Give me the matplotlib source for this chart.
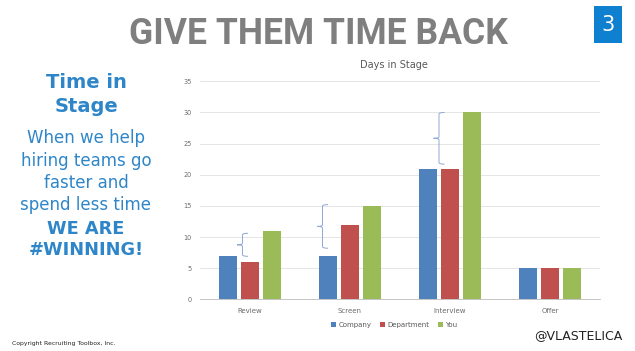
import matplotlib
matplotlib.use("Agg")
import matplotlib.pyplot as plt
import numpy as np
from matplotlib.path import Path
from matplotlib.patches import PathPatch, Rectangle

# data
stages = ["Review", "Screen", "Interview", "Offer"]
company = [7, 7, 21, 5]
department = [6, 12, 21, 5]
you = [11, 15, 30, 5]
series_names = ["Company", "Department", "You"]
colors = ["#4f81bd", "#c0504d", "#9bbb59"]

# bracket annotations (category index, x offset, low, high)
brace_cat = [0, 1, 2]
brace_off = [-0.075, -0.275, -0.11]
brace_lo = [6.9, 8.2, 21.7]
brace_hi = [10.6, 15.2, 30]

plt.rcParams["font.family"] = ["DejaVu Sans"]

W, H = 635, 351
fig = plt.figure(figsize=(6.35, 3.51), dpi=100)
fig.patch.set_facecolor("white")


def fx(px):
    return px / W


def fy(px):
    return 1 - px / H


# -------------------------
# SLIDE TEXT
# -------------------------
fig.text(fx(318), fy(44.3), "GIVE THEM TIME BACK", ha="center", va="baseline",
         fontsize=25.6, fontweight="bold", color="#7f7f7f", family="Roboto")

fig.patches.append(Rectangle((fx(594), fy(43)), 28 / W, 37 / H,
                             transform=fig.transFigure, facecolor="#0f7fcf",
                             edgecolor="none"))
fig.text(fx(608), fy(31), "3", ha="center", va="baseline",
         fontsize=15, color="white")

blue = "#2e86c8"
left_lines = [
    ("Time in", 88, 14, "bold"),
    ("Stage", 112, 14, "bold"),
    ("When we help", 143.3, 12, "normal"),
    ("hiring teams go", 165.6, 12, "normal"),
    ("faster and", 188, 12, "normal"),
    ("spend less time", 210.3, 12, "normal"),
    ("WE ARE", 234, 12.8, "bold"),
    ("#WINNING!", 255, 12.8, "bold"),
]
for txt, ypx, fs, fw in left_lines:
    fig.text(fx(86), fy(ypx), txt, ha="center", va="baseline",
             fontsize=fs, fontweight=fw, color=blue)

fig.text(fx(12), fy(343), "Copyright Recruiting Toolbox, Inc.",
         ha="left", va="center", fontsize=4.4, color="#222222")
fig.text(fx(622), fy(336), "@VLASTELICA", ha="right", va="center",
         fontsize=9, color="#222222")

# -------------------------
# CHART
# -------------------------
ax = fig.add_axes([fx(200), 51.7 / H, 400 / W, 218 / H])

x = np.arange(len(stages))
step = 0.22
width = 0.173
for i, (vals, name, col) in enumerate(zip([company, department, you], series_names, colors)):
    ax.bar(x + (i - 1) * step, vals, width=width, color=col, label=name, zorder=3)

ax.set_xlim(-0.5, len(stages) - 0.5)
ax.set_ylim(0, 35)
ax.set_yticks(range(0, 36, 5))
ax.set_xticks(x)
ax.set_xticklabels(stages)
ax.tick_params(axis="both", length=0, labelsize=4.7, colors="#6b6b6b")
ax.tick_params(axis="x", pad=6, labelsize=5)
ax.tick_params(axis="y", pad=6)
ax.grid(axis="y", color="#e0e0e0", linewidth=0.6, zorder=0)
for s in ["top", "right", "left"]:
    ax.spines[s].set_visible(False)
ax.spines["bottom"].set_color("#c4c4c4")
ax.spines["bottom"].set_linewidth(0.7)

fig.text(fx(394), fy(68.5), "Days in Stage", ha="center", va="baseline",
         fontsize=7, color="#595959")

# curly braces
codes = [Path.MOVETO, Path.CURVE3, Path.CURVE3, Path.LINETO,
         Path.CURVE3, Path.CURVE3, Path.CURVE3, Path.CURVE3,
         Path.LINETO, Path.CURVE3, Path.CURVE3]
for c, off, lo, hi in zip(brace_cat, brace_off, brace_lo, brace_hi):
    bx = c + off
    w = 0.055
    mid = (lo + hi) / 2
    r = 0.25
    verts = [
        (bx + w, hi), (bx, hi), (bx, hi - r),
        (bx, mid + r), (bx, mid), (bx - w, mid),
        (bx, mid), (bx, mid - r),
        (bx, lo + r), (bx, lo), (bx + w, lo),
    ]
    ax.add_patch(PathPatch(Path(verts, codes), facecolor="none",
                           edgecolor="#8ea9d6", linewidth=0.7, zorder=4))

leg = ax.legend(loc="center", bbox_to_anchor=(fx(394), fy(325)),
                bbox_transform=fig.transFigure, ncol=3, frameon=False,
                fontsize=5, handlelength=0.8, handleheight=0.8,
                handletextpad=0.3, columnspacing=1.2)
for t in leg.get_texts():
    t.set_color("#595959")

fig.savefig("out.png", dpi=100)
